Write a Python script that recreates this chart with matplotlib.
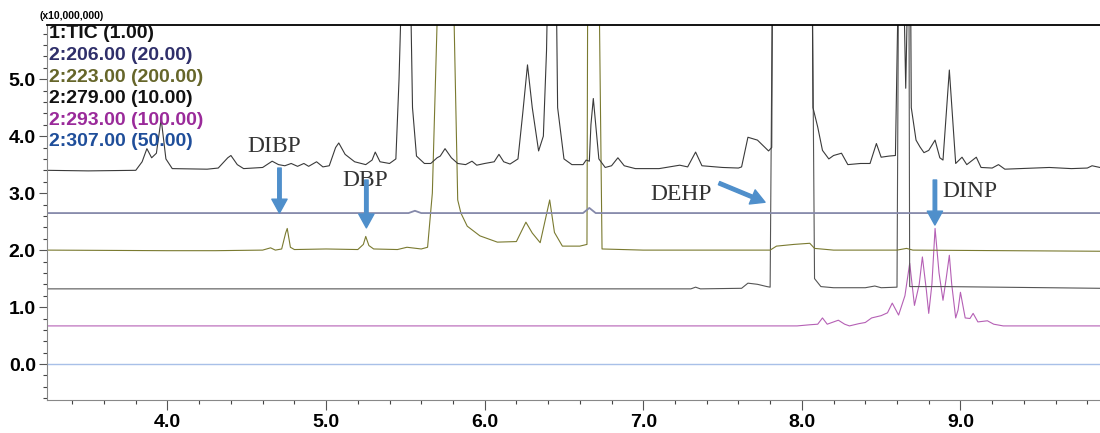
import numpy as np
import matplotlib
matplotlib.use("Agg")
import matplotlib.pyplot as plt
from matplotlib.ticker import MultipleLocator

# retention time (min) / intensity (x10,000,000)
tic_x = [3.24, 3.50, 3.80, 3.84, 3.87, 3.90, 3.93, 3.96, 3.99, 4.03, 4.25, 4.32, 4.38, 4.40, 4.44,
         4.48, 4.60, 4.66, 4.70, 4.74, 4.78, 4.82, 4.86, 4.89, 4.94, 4.98, 5.02, 5.06, 5.08, 5.12,
         5.18, 5.25, 5.29, 5.31, 5.34, 5.40, 5.44, 5.46, 5.48, 5.53, 5.545, 5.57, 5.62, 5.66, 5.70,
         5.72, 5.75, 5.79, 5.83, 5.88, 5.92, 5.95, 6.00, 6.06, 6.09, 6.12, 6.16, 6.21, 6.24, 6.27,
         6.30, 6.34, 6.37, 6.39, 6.40, 6.45, 6.46, 6.50, 6.55, 6.62, 6.64, 6.66, 6.67, 6.685, 6.70,
         6.72, 6.76, 6.80, 6.84, 6.88, 6.95, 7.10, 7.23, 7.28, 7.33, 7.37, 7.50, 7.60, 7.62, 7.66,
         7.72, 7.79, 7.81, 7.815, 8.065, 8.07, 8.10, 8.13, 8.17, 8.20, 8.25, 8.29, 8.37, 8.43, 8.47,
         8.50, 8.55, 8.59, 8.61, 8.62, 8.64, 8.655, 8.67, 8.685, 8.69, 8.72, 8.745, 8.77, 8.80,
         8.84, 8.87, 8.89, 8.93, 8.97, 9.01, 9.04, 9.10, 9.13, 9.20, 9.24, 9.28, 9.56, 9.70, 9.80,
         9.83, 9.88]
tic_y = [3.40, 3.39, 3.40, 3.55, 3.78, 3.62, 3.70, 4.30, 3.60, 3.43, 3.42, 3.44, 3.62, 3.66, 3.50,
         3.43, 3.45, 3.56, 3.50, 3.48, 3.52, 3.47, 3.52, 3.47, 3.55, 3.46, 3.48, 3.80, 3.88, 3.68,
         3.55, 3.50, 3.58, 3.72, 3.55, 3.52, 3.60, 5.00, 7.00, 7.00, 4.50, 3.65, 3.52, 3.52, 3.62,
         3.65, 3.78, 3.62, 3.52, 3.50, 3.56, 3.49, 3.52, 3.55, 3.68, 3.55, 3.51, 3.60, 4.40, 5.25,
         4.50, 3.74, 4.00, 5.50, 7.00, 7.00, 4.50, 3.60, 3.50, 3.50, 3.58, 3.56, 4.20, 4.66, 4.20,
         3.60, 3.45, 3.48, 3.62, 3.48, 3.43, 3.43, 3.49, 3.46, 3.72, 3.48, 3.45, 3.44, 3.46, 3.98,
         3.93, 3.74, 3.80, 7.00, 7.00, 4.50, 4.16, 3.75, 3.60, 3.66, 3.70, 3.50, 3.52, 3.52, 3.87,
         3.63, 3.65, 3.66, 7.00, 7.00, 7.00, 4.84, 7.00, 7.00, 4.50, 3.93, 3.81, 3.71, 3.75,
         3.93, 3.62, 3.58, 5.16, 3.52, 3.63, 3.50, 3.63, 3.45, 3.44, 3.50, 3.42, 3.45, 3.43, 3.44,
         3.48, 3.45]

m206_x = [3.24, 5.52, 5.56, 5.60, 6.62, 6.66, 6.70, 9.88]
m206_y = [2.65, 2.65, 2.69, 2.65, 2.65, 2.74, 2.65, 2.65]

m223_x = [3.24, 4.00, 4.30, 4.60, 4.65, 4.68, 4.72, 4.745, 4.755, 4.775, 4.80, 5.00, 5.20, 5.235,
          5.25, 5.27, 5.30, 5.45, 5.51, 5.60, 5.64, 5.67, 5.71, 5.80, 5.83, 5.85, 5.89, 5.97, 6.08,
          6.20, 6.26, 6.30, 6.35, 6.41, 6.44, 6.49, 6.60, 6.645, 6.65, 6.72, 6.74, 7.00, 7.80, 7.84,
          7.95, 8.05, 8.08, 8.20, 8.60, 8.66, 8.70, 9.88]
m223_y = [2.00, 1.99, 1.99, 2.00, 2.04, 2.00, 2.02, 2.30, 2.38, 2.05, 2.01, 2.02, 2.01, 2.10,
          2.24, 2.08, 2.02, 2.01, 2.05, 2.02, 2.05, 3.00, 7.00, 7.00, 2.88, 2.65, 2.42, 2.25, 2.14,
          2.15, 2.49, 2.30, 2.13, 2.88, 2.31, 2.07, 2.07, 2.10, 7.00, 7.00, 2.02, 2.00, 2.00, 2.07,
          2.10, 2.12, 2.03, 2.00, 2.00, 2.03, 2.00, 1.98]

m279_x = [3.24, 7.30, 7.33, 7.36, 7.62, 7.66, 7.72, 7.78, 7.80, 7.815, 8.065, 8.08, 8.12, 8.20,
          8.40, 8.46, 8.50, 8.60, 8.61, 8.675, 8.68, 8.90, 9.88]
m279_y = [1.32, 1.32, 1.35, 1.32, 1.33, 1.42, 1.40, 1.36, 1.35, 7.00, 7.00, 1.50, 1.36, 1.34,
          1.34, 1.37, 1.34, 1.35, 7.00, 7.00, 1.36, 1.36, 1.33]

m293_x = [3.24, 7.97, 8.05, 8.10, 8.13, 8.16, 8.20, 8.23, 8.27, 8.30, 8.36, 8.40, 8.44, 8.50,
          8.54, 8.57, 8.61, 8.65, 8.68, 8.71, 8.74, 8.76, 8.785, 8.80, 8.82, 8.84, 8.865, 8.89,
          8.91, 8.93, 8.945, 8.97, 8.985, 9.00, 9.03, 9.06, 9.08, 9.11, 9.14, 9.17, 9.21, 9.27, 9.88]
m293_y = [0.67, 0.67, 0.69, 0.70, 0.81, 0.70, 0.74, 0.77, 0.70, 0.67, 0.71, 0.73, 0.81, 0.85,
          0.90, 1.07, 0.86, 1.20, 1.77, 1.03, 1.40, 1.88, 1.30, 0.89, 1.40, 2.38, 1.60, 1.12,
          1.50, 1.91, 1.40, 0.81, 0.95, 1.26, 0.81, 0.80, 0.89, 0.74, 0.75, 0.76, 0.70, 0.67, 0.67]

m307_x = [3.24, 9.88]
m307_y = [0.0, 0.0]

legend_labels = ["1:TIC (1.00)", "2:206.00 (20.00)", "2:223.00 (200.00)",
                 "2:279.00 (10.00)", "2:293.00 (100.00)", "2:307.00 (50.00)"]
legend_colors = ["#111111", "#2f2f6a", "#66662a", "#111111", "#9a2a9a", "#1f4e9a"]

# compound labels: name, text position, arrow tail, arrow tip
peak_names = ["DIBP", "DBP", "DEHP", "DINP"]
name_pos = [(4.67, 3.82), (5.25, 3.23), (7.24, 2.98), (9.06, 3.02)]
arrow_tail = [(4.706, 3.44), (5.254, 3.23), (7.478, 3.175), (8.839, 3.23)]
arrow_tip = [(4.706, 2.65), (5.254, 2.39), (7.768, 2.84), (8.839, 2.44)]

fig = plt.figure(figsize=(11, 4.33), dpi=100)
ax = fig.add_axes([0.0427, 0.0762, 0.9573, 0.8661])

ax.plot(m307_x, m307_y, color="#a8c0e8", lw=1.0)
ax.plot(m293_x, m293_y, color="#b560b5", lw=0.8)
ax.plot(m279_x, m279_y, color="#555555", lw=0.8)
ax.plot(m223_x, m223_y, color="#7a7a30", lw=0.8)
ax.plot(m206_x, m206_y, color="#8589aa", lw=1.3)
ax.plot(tic_x, tic_y, color="#3a3a3a", lw=0.8)

for name, p, t, h in zip(peak_names, name_pos, arrow_tail, arrow_tip):
    ax.text(p[0], p[1], name, family="Liberation Serif", fontsize=17, color="#333333",
            ha="center", va="center")
    ax.annotate("", xy=h, xytext=t,
                arrowprops=dict(facecolor="#4f8fcb", edgecolor="#4f8fcb",
                                width=2.5, headwidth=11, headlength=10, shrink=0))

ax.set_xlim(3.24, 9.88)
ax.set_ylim(-0.63, 5.95)
ax.xaxis.set_major_locator(MultipleLocator(1.0))
ax.xaxis.set_minor_locator(MultipleLocator(0.2))
ax.yaxis.set_major_locator(MultipleLocator(1.0))
ax.yaxis.set_minor_locator(MultipleLocator(0.2))
ax.xaxis.set_major_formatter(plt.FormatStrFormatter("%.1f"))
ax.yaxis.set_major_formatter(plt.FormatStrFormatter("%.1f"))
ax.tick_params(which="major", length=6, width=0.8, color="#555555", pad=2)
ax.tick_params(which="minor", length=3, width=0.8, color="#444444")
for lab in ax.get_xticklabels() + ax.get_yticklabels():
    lab.set_fontfamily("Liberation Sans")
    lab.set_fontweight("bold")
    lab.set_fontsize(14)
ax.tick_params(axis="x", pad=3)
ax.tick_params(axis="x", which="major", length=7)

ax.spines["right"].set_visible(False)
ax.spines["top"].set_color("black")
ax.spines["top"].set_linewidth(1.3)
ax.spines["left"].set_color("#888888")
ax.spines["bottom"].set_color("#888888")

for i, (lab, c) in enumerate(zip(legend_labels, legend_colors)):
    fig.text(0.0445, 1 - (34 + 21.6 * i) / 433, lab, family="Liberation Sans",
             fontsize=14, fontweight="bold", color=c, va="center", ha="left")
fig.text(0.036, 1 - 16 / 433, "(x10,000,000)", family="Liberation Sans", fontsize=7.5,
         fontweight="bold", va="center", ha="left")

plt.savefig("out.png", dpi=100)
